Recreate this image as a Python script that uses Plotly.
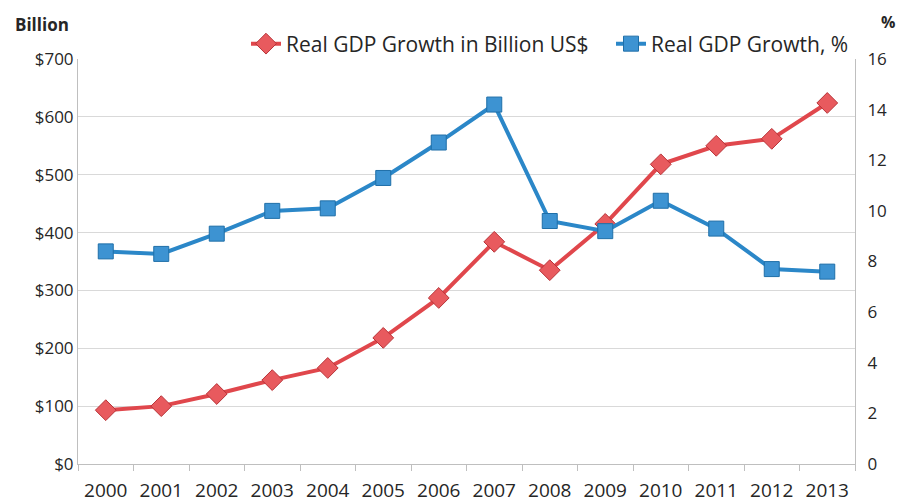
import plotly.graph_objects as go

years = ["2000", "2001", "2002", "2003", "2004", "2005", "2006", "2007",
         "2008", "2009", "2010", "2011", "2012", "2013"]
gdp_billion = [93, 100, 121, 145, 166, 218, 287, 384, 335, 415, 518, 550, 562, 624]
gdp_pct = [8.4, 8.3, 9.1, 10.0, 10.1, 11.3, 12.7, 14.2, 9.6, 9.2, 10.4, 9.3, 7.7, 7.6]
left_ticks = [0, 100, 200, 300, 400, 500, 600, 700]
left_labels = ["$0", "$100", "$200", "$300", "$400", "$500", "$600", "$700"]
right_ticks = [0, 2, 4, 6, 8, 10, 12, 14, 16]

FONT = "'Open Sans', sans-serif"
RED = "#E0474C"
BLUE = "#2B87C8"
TXT = "#262626"

# The page body adds an 8px offset; compensate so the plot area lands at
# x 78..855, y 59..464 in the 910x502 window.
OFF = 8
W, H = 910 - OFF, 502 - OFF
PL, PT, PW, PH = 78, 59, 777, 405

fig = go.Figure()
fig.add_trace(go.Scatter(
    x=years, y=gdp_billion, name="Real GDP Growth in Billion US$",
    mode="lines+markers",
    line=dict(color=RED, width=4),
    marker=dict(symbol="diamond", size=16, color="#E85A5E",
                line=dict(color="#B83338", width=1)),
    yaxis="y",
))
fig.add_trace(go.Scatter(
    x=years, y=gdp_pct, name="Real GDP Growth, %",
    mode="lines+markers",
    line=dict(color=BLUE, width=4),
    marker=dict(symbol="square", size=15, color="#3D93D2",
                line=dict(color="#1F6FA8", width=1)),
    yaxis="y2",
))

def px_x(x):
    return (x - PL) / PW

def px_y(y):
    return (PT + PH - y) / PH

fig.update_layout(
    width=W, height=H,
    margin=dict(l=PL - OFF, r=W - (PL - OFF) - PW, t=PT - OFF,
                b=H - (PT - OFF) - PH, autoexpand=False),
    paper_bgcolor="white", plot_bgcolor="white",
    font=dict(family=FONT, size=16, color=TXT),
    showlegend=True,
    legend=dict(orientation="h", x=px_x(246), y=px_y(44),
                xanchor="left", yanchor="middle",
                font=dict(size=21, color=TXT), bgcolor="rgba(0,0,0,0)",
                itemwidth=30, tracegroupgap=0,
                entrywidth=320, entrywidthmode="pixels"),
    xaxis=dict(type="category", range=[-0.5, 13.5], showgrid=False, automargin=False,
               showline=True, linecolor="#BFBFBF", linewidth=1,
               ticks="outside", tickson="boundaries", ticklen=6, tickcolor="#BFBFBF",
               ticklabelstandoff=9,
               tickfont=dict(size=19, color=TXT)),
    yaxis=dict(range=[0, 700], tickvals=left_ticks, ticktext=left_labels, automargin=False,
               showgrid=True, gridcolor="#D9D9D9", gridwidth=1,
               showline=True, linecolor="#BFBFBF", linewidth=1,
               ticks="", zeroline=False, tickfont=dict(size=17, color=TXT)),
    yaxis2=dict(range=[0, 16], tickvals=right_ticks, overlaying="y", side="right",
                automargin=False, showgrid=False, showline=True, linecolor="#BFBFBF",
                linewidth=1, ticks="", zeroline=False, ticklabelstandoff=8,
                tickfont=dict(size=17, color=TXT)),
    annotations=[
        dict(text="<b>Billion</b>", x=px_x(42), y=px_y(24),
             xref="paper", yref="paper", xanchor="center", yanchor="middle",
             showarrow=False, font=dict(size=17, color=TXT)),
        dict(text="<b>%</b>", x=px_x(888), y=px_y(OFF + 1),
             xref="paper", yref="paper", xanchor="center", yanchor="top",
             showarrow=False, font=dict(size=16, color=TXT)),
    ],
)

fig.write_html("out.html")
